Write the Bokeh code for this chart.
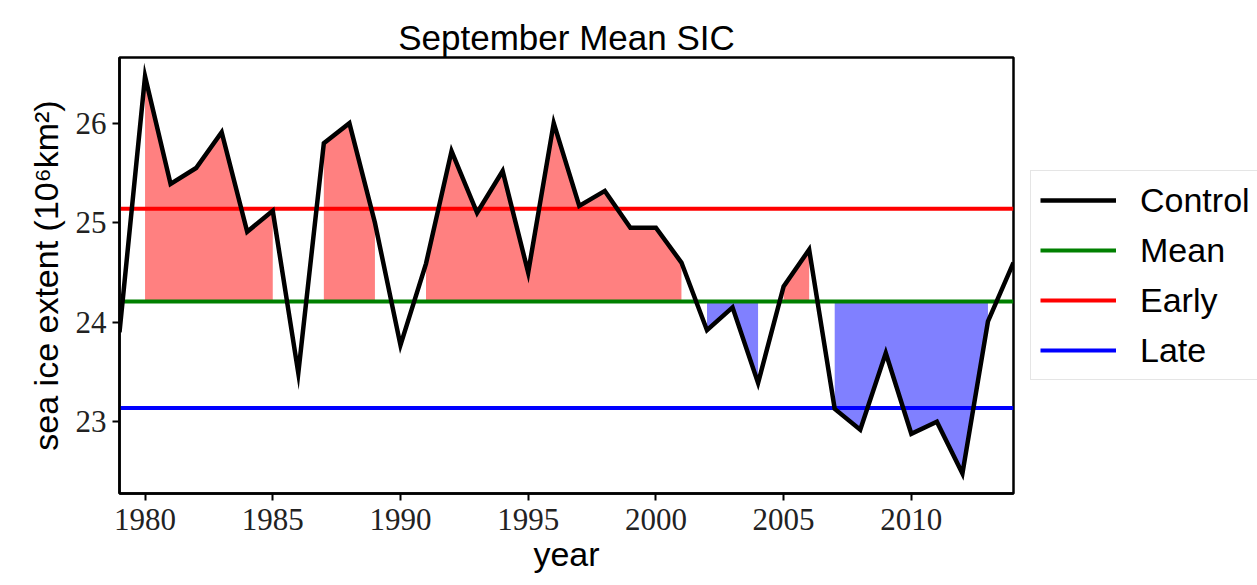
from bokeh.plotting import figure
from bokeh.models import Legend, LegendItem, FixedTicker, Range1d
from bokeh.embed import file_html
from bokeh.resources import INLINE

# ---- data ----
years = list(range(1979, 2015))
control = [23.90, 26.47, 25.39, 25.55, 25.91, 24.91, 25.12, 23.49, 25.80, 26.00,
           25.00, 23.77, 24.59, 25.72, 25.10, 25.52, 24.50, 26.00, 25.17, 25.32,
           24.95, 24.95, 24.60, 23.92, 24.15, 23.39, 24.36, 24.73, 23.13, 22.92,
           23.69, 22.88, 23.00, 22.48, 24.01, 24.60]
mean_val = 24.21
early_val = 25.14
late_val = 23.14
x_ticks = [1980, 1985, 1990, 1995, 2000, 2005, 2010]
y_ticks = [23, 24, 25, 26]

SANS = "Liberation Sans"
SERIF = "Liberation Serif"

p = figure(width=1257, height=585, frame_width=894, frame_height=436,
           x_range=Range1d(1979, 2014), y_range=Range1d(22.28, 26.66),
           output_backend="svg", toolbar_location=None,
           min_border_left=119, min_border_right=0,
           min_border_top=57, min_border_bottom=92)

p.background_fill_color = "white"
p.border_fill_color = "white"
p.xgrid.visible = False
p.ygrid.visible = False
p.outline_line_color = "black"
p.outline_line_width = 2.5
p.outline_line_alpha = 1.0

# title
p.title.text = "September Mean SIC"
p.title.align = "center"
p.title.text_font = SANS
p.title.text_font_size = "35px"
p.title.text_font_style = "normal"
p.title.text_color = "black"
p.title.standoff = 2

# fills between control and mean
def runs(flags):
    out, start = [], None
    for i, f in enumerate(flags):
        if f and start is None:
            start = i
        if not f and start is not None:
            out.append((start, i))
            start = None
    if start is not None:
        out.append((start, len(flags)))
    return out

above = [c > mean_val for c in control]
below = [c < mean_val for c in control]
for flags, col in ((above, "#ff8080"), (below, "#8080ff")):
    for a, b in runs(flags):
        if b - a >= 2:
            xs = years[a:b]
            p.varea(x=xs, y1=[mean_val] * len(xs), y2=control[a:b],
                    fill_color=col, fill_alpha=1.0)

n = len(years)
r_mean = p.line(years, [mean_val] * n, line_color="#008000", line_width=4)
r_early = p.line(years, [early_val] * n, line_color="#ff0000", line_width=4)
r_late = p.line(years, [late_val] * n, line_color="#0000ff", line_width=4)
r_ctrl = p.line(years, control, line_color="black", line_width=4.5,
                line_join="miter")

# axes
for ax in (p.xaxis, p.yaxis):
    ax.axis_line_width = 2.5
    ax.axis_line_color = "black"
    ax.major_tick_line_width = 2
    ax.major_tick_line_color = "black"
    ax.major_tick_out = 7
    ax.major_tick_in = 0
    ax.minor_tick_line_color = None
    ax.major_label_text_font = SERIF
    ax.major_label_text_font_size = "31px"
    ax.major_label_text_color = "#222222"
    ax.axis_label_text_font = SANS
    ax.axis_label_text_font_size = "34px"
    ax.axis_label_text_font_style = "normal"
    ax.axis_label_text_color = "black"

p.xaxis.ticker = FixedTicker(ticks=x_ticks)
p.yaxis.ticker = FixedTicker(ticks=y_ticks)
p.xaxis.axis_label = "year"
p.yaxis.axis_label = "sea ice extent (10\u2076km\u00b2)"
p.xaxis.major_label_standoff = 8
p.yaxis.major_label_standoff = 6
p.xaxis.axis_label_standoff = 2
p.yaxis.axis_label_standoff = 8

legend = Legend(items=[
    LegendItem(label="Control", renderers=[r_ctrl]),
    LegendItem(label="Mean", renderers=[r_mean]),
    LegendItem(label="Early", renderers=[r_early]),
    LegendItem(label="Late", renderers=[r_late]),
], location="center_left")
legend.label_text_font = SANS
legend.label_text_font_size = "34px"
legend.label_text_color = "black"
legend.glyph_width = 76
legend.glyph_height = 40
legend.label_height = 40
legend.label_standoff = 24
legend.spacing = 10
legend.padding = 9
legend.margin = 17
legend.border_line_color = "#cccccc"
legend.border_line_width = 1.5
legend.background_fill_color = "white"
legend.background_fill_alpha = 0.85
p.add_layout(legend, "right")

open("out.html", "w").write(file_html(p, INLINE))
